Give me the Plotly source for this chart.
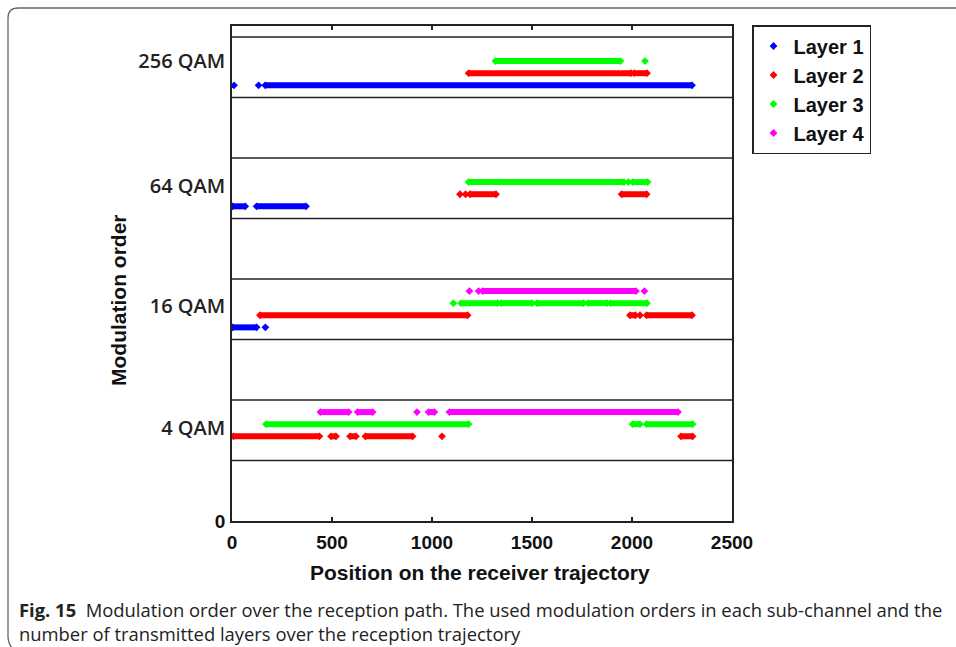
import plotly.graph_objects as go

# ---------------- data ----------------
band_names = ["4 QAM", "16 QAM", "64 QAM", "256 QAM"]
band_base = [1, 3, 5, 7]            # lower edge of each modulation band (y units)
band_label_y = [1.53, 3.56, 5.54, 7.6]
layer_names = ["Layer 1", "Layer 2", "Layer 3", "Layer 4"]
layer_level = [0.2, 0.4, 0.6, 0.8]  # level of each layer inside a band
x_ticks = [0, 500, 1000, 1500, 2000, 2500]

# continuous runs (start, end) and isolated points, per band (4, 16, 64, 256 QAM)
layer1_runs = [[], [(3, 123)], [(3, 66), (123, 370)], [(166, 2300)]]
layer1_pts = [[], [167], [], [10, 133]]

layer2_runs = [[(7, 437), (495, 520), (590, 620), (667, 903), (2245, 2303)],
               [(140, 1178), (1990, 2017), (2073, 2300)],
               [(1190, 1320), (1948, 2073)],
               [(1183, 1995), (2010, 2075)]]
layer2_pts = [[1050], [2040], [1140, 1168], []]

layer3_runs = [[(170, 1183), (2003, 2040), (2073, 2303)],
               [(1145, 1328), (1345, 1500), (1525, 1758), (1780, 1875), (1892, 2075)],
               [(1183, 1960), (2003, 2078)],
               [(1317, 1942)]]
layer3_pts = [[], [1107], [1982], [2065]]

layer4_runs = [[(442, 583), (628, 703), (983, 1012), (1087, 2230)],
               [(1253, 2020)],
               [],
               []]
layer4_pts = [[925], [1187, 1233, 2062], [], []]

layer_runs = [layer1_runs, layer2_runs, layer3_runs, layer4_runs]
layer_pts = [layer1_pts, layer2_pts, layer3_pts, layer4_pts]
layer_colors = ["#0000FF", "#FF0000", "#00FF00", "#FF00FF"]

caption_bold = "Fig. 15"
caption_line1 = "Modulation order over the reception path. The used modulation orders in each sub-channel and the"
caption_line2 = "number of transmitted layers over the reception trajectory"

# ---------------- geometry helpers (pixel -> paper) ----------------
W, H = 956, 647
L, R, T, B = 232, 732, 26, 521
def xp(px):
    return (px - L) / (R - L)
def yp(py):
    return (B - py) / (B - T)

fig = go.Figure()

for li in range(4):
    lx, ly, mx, my = [], [], [], []
    for bi in range(4):
        yv = band_base[bi] + layer_level[li]
        for (s, e) in layer_runs[li][bi]:
            lx += [s, e, None]
            ly += [yv, yv, None]
            mx += [s, e]
            my += [yv, yv]
        for p in layer_pts[li][bi]:
            mx.append(p)
            my.append(yv)
    fig.add_trace(go.Scatter(x=lx, y=ly, mode="lines", showlegend=False,
                             line=dict(color=layer_colors[li], width=6),
                             hoverinfo="skip"))
    fig.add_trace(go.Scatter(x=mx, y=my, mode="markers", name=layer_names[li],
                             marker=dict(symbol="diamond", size=6,
                                         color=layer_colors[li], line=dict(width=0))))

shapes = []
for k in range(1, 9):
    shapes.append(dict(type="line", xref="paper", yref="y", x0=0, x1=1, y0=k, y1=k,
                       line=dict(color="#222222", width=1.5), layer="above"))
# outer rounded frame of the figure panel
path = (f"M {xp(22)},{yp(652)} Q {xp(8)},{yp(650)} {xp(8)},{yp(636)} "
        f"L {xp(8)},{yp(18)} Q {xp(8)},{yp(8)} {xp(18)},{yp(8)} L {xp(965)},{yp(8)}")
shapes.append(dict(type="path", xref="paper", yref="paper", path=path,
                   line=dict(color="#666666", width=1.3)))

narrow = "Liberation Sans Narrow, Arial Narrow, Liberation Sans, Arial, sans-serif"
tick_text = ["<span style='font-family:Liberation Sans Narrow, Arial Narrow, Liberation Sans, sans-serif;font-weight:bold;font-size:19px;color:#111'>0</span>"] + band_names

fig.update_layout(
    width=W, height=H,
    margin=dict(l=L, r=W - R, t=T, b=H - B, autoexpand=False),
    plot_bgcolor="white", paper_bgcolor="white",
    shapes=shapes,
    showlegend=True,
    legend=dict(x=xp(752), y=yp(25), xanchor="left", yanchor="top",
                bordercolor="#222222", borderwidth=1.5, bgcolor="white",
                font=dict(family="Liberation Sans, Arial, sans-serif", size=20,
                          color="#111111", weight="bold"),
                itemwidth=30, tracegroupgap=0),
    xaxis=dict(range=[0, 2500], tickvals=x_ticks, ticktext=[str(v) for v in x_ticks],
               showgrid=False, zeroline=False, showline=True, mirror="ticks",
               linecolor="#222222", linewidth=1.5, ticks="inside", ticklen=4,
               tickwidth=1.5, tickcolor="#222222", ticklabelstandoff=3,
               tickfont=dict(family=narrow, size=19, color="#111111", weight="bold")),
    yaxis=dict(range=[0, 8.18], tickvals=[0] + band_label_y, ticktext=tick_text,
               showgrid=False, zeroline=False, showline=True, mirror=True,
               linecolor="#222222", linewidth=1.5, ticks="", ticklabelstandoff=1,
               tickfont=dict(family="Open Sans, sans-serif", size=20, color="#222222",
                             weight=600)),
    annotations=[
        dict(text="<b>Modulation order</b>", xref="paper", yref="paper",
             x=xp(118), y=yp(300), textangle=-90, showarrow=False,
             xanchor="center", yanchor="middle",
             font=dict(family="Liberation Sans, Arial, sans-serif", size=21, color="#111111")),
        dict(text="<b>Position on the receiver trajectory</b>", xref="paper", yref="paper",
             x=xp(479.5), y=yp(572), showarrow=False, xanchor="center", yanchor="middle",
             font=dict(family="Liberation Sans, Arial, sans-serif", size=21, color="#111111")),
        dict(text=f"<b>{caption_bold}</b>  {caption_line1}<br>{caption_line2}",
             xref="paper", yref="paper", x=xp(17), y=yp(621), showarrow=False,
             xanchor="left", yanchor="middle", align="left",
             font=dict(family="Open Sans, sans-serif", size=18.4, color="#222222")),
    ],
)

fig.write_html("out.html", config={"displayModeBar": False},
               post_script="document.body.style.margin='0';document.body.style.overflow='hidden';")
